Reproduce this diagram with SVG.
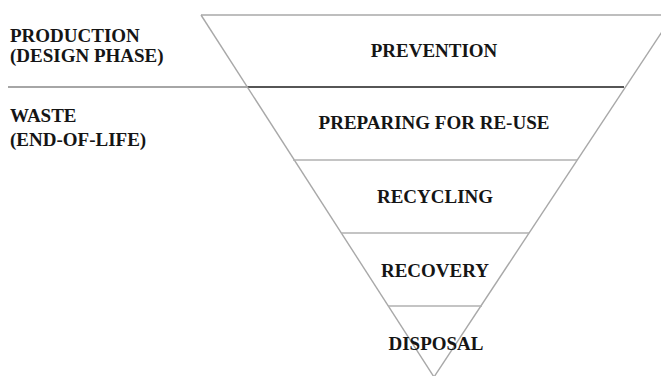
<svg xmlns="http://www.w3.org/2000/svg" width="661" height="376" viewBox="0 0 661 376">
  <style>
    .lbl { font-family: 'Liberation Serif', 'DejaVu Serif', serif; font-weight: 700; font-size: 19px; fill: #151515; }
    .mid { text-anchor: middle; }
    .edge { stroke: #a8a8a8; stroke-width: 1.4; fill: none; }
    .tier { stroke: #b0b0b0; stroke-width: 1.3; }
  </style>
  <rect width="661" height="376" fill="#ffffff"/>

  <!-- phase labels on the left -->
  <g id="phase-production">
    <text class="lbl" x="10" y="42">PRODUCTION</text>
    <text class="lbl" x="10" y="62">(DESIGN PHASE)</text>
  </g>
  <g id="phase-waste">
    <text class="lbl" x="10" y="122">WASTE</text>
    <text class="lbl" x="10" y="146">(END-OF-LIFE)</text>
  </g>

  <!-- inverted triangle outline and tier dividers -->
  <g id="connectors">
    <line x1="8" y1="87" x2="247" y2="87" stroke="#888" stroke-width="1.4"/>
    <line x1="247" y1="87" x2="624" y2="87" stroke="#1e1e1e" stroke-width="1.4"/>
    <line class="edge" x1="201" y1="15" x2="661" y2="15"/>
    <line class="edge" x1="201" y1="15" x2="434" y2="377"/>
    <line class="edge" x1="673" y1="15" x2="434" y2="377"/>
    <line class="tier" x1="293" y1="160" x2="577" y2="160"/>
    <line class="tier" x1="341" y1="233" x2="529" y2="233"/>
    <line class="tier" x1="388" y1="306" x2="482" y2="306"/>
  </g>

  <!-- tiers of the hierarchy -->
  <g id="tier-prevention">
    <text class="lbl mid" x="434" y="57">PREVENTION</text>
  </g>
  <g id="tier-reuse">
    <text class="lbl mid" x="434" y="129">PREPARING FOR RE-USE</text>
  </g>
  <g id="tier-recycling">
    <text class="lbl mid" x="435" y="203">RECYCLING</text>
  </g>
  <g id="tier-recovery">
    <text class="lbl mid" x="435" y="277">RECOVERY</text>
  </g>
  <g id="tier-disposal">
    <text class="lbl mid" x="436" y="350">DISPOSAL</text>
  </g>
</svg>
